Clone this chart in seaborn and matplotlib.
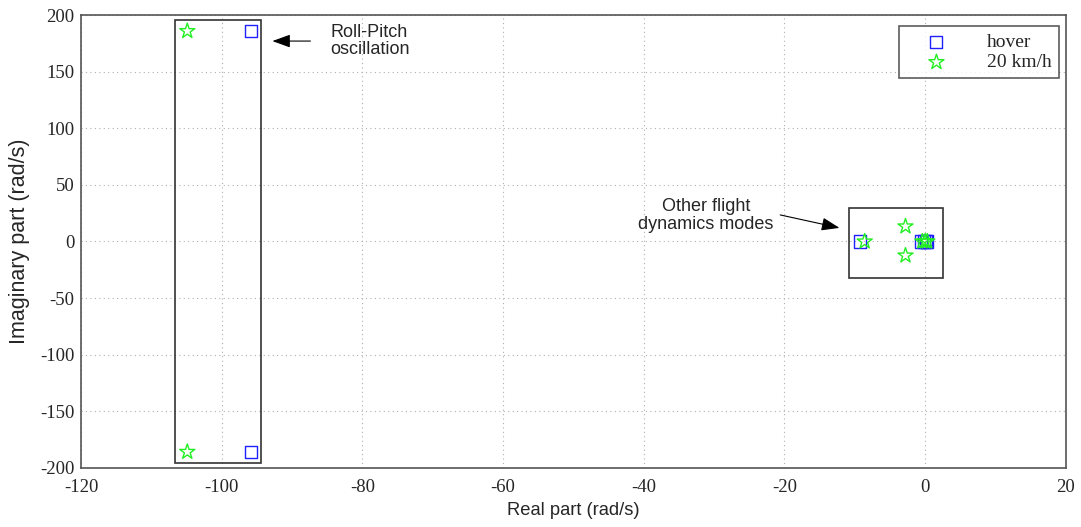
import numpy as np
import pandas as pd
import matplotlib
matplotlib.use("Agg")
import matplotlib.pyplot as plt
import seaborn as sns
from matplotlib.patches import Rectangle

# ============================================================
# DATEN: Eigenwerte (Realteil / Imaginärteil) aus dem Bild
# ============================================================
hover_re = [-95.8, -95.8, -9.3, -0.6, -0.2, 0.1, 0.3]
hover_im = [185.8, -185.8, 0.0, 0.0, 0.0, 0.0, 0.0]

fast_re = [-104.9, -104.9, -8.6, -2.8, -2.8, -0.4, 0.0, 0.3]
fast_im = [185.8, -185.8, 0.0, 13.3, -12.4, 0.0, 0.0, 0.0]

series_names = ["hover", "20 km/h"]
x_ticks = [-120, -100, -80, -60, -40, -20, 0, 20]
y_ticks = [-200, -150, -100, -50, 0, 50, 100, 150, 200]

df = pd.DataFrame({
    "re": hover_re + fast_re,
    "im": hover_im + fast_im,
    "mode": [series_names[0]] * len(hover_re) + [series_names[1]] * len(fast_re),
})

# ============================================================
# PLOT
# ============================================================
sns.set_style("white")
plt.rcParams['font.family'] = ['Liberation Sans', 'DejaVu Sans']
plt.rcParams['axes.unicode_minus'] = False

fig = plt.figure(figsize=(10.81, 5.27), dpi=100)
ax = fig.add_axes([0.075, 0.112, 0.911, 0.8595])

colors = {"hover": "#2020ff", "20 km/h": "#22ee22"}
markers = {"hover": "s", "20 km/h": "*"}
for name in series_names:
    sub = df[df["mode"] == name]
    sns.scatterplot(data=sub, x="re", y="im", ax=ax, marker=markers[name],
                    s=75 if name == "hover" else 130, facecolors="none",
                    edgecolor=colors[name], linewidth=1.0, label=name, zorder=3)

ax.set_xlim(-120, 20)
ax.set_ylim(-200, 200)
ax.set_xticks(x_ticks)
ax.set_yticks(y_ticks)
ax.grid(True, linestyle=(0, (1, 3)), color="#b0b0b0", linewidth=0.8)
for sp in ax.spines.values():
    sp.set_color("#555555")
    sp.set_linewidth(1.2)
ax.tick_params(direction="in", length=5, color="#555555", labelsize=13.5)
ax.tick_params(axis="x", pad=8)
ax.tick_params(axis="y", pad=5)
for lab in ax.get_xticklabels() + ax.get_yticklabels():
    lab.set_fontfamily("Liberation Serif")

ax.set_xlabel("Real part (rad/s)", fontsize=13.2, labelpad=4)
ax.set_ylabel("Imaginary part (rad/s)", fontsize=15.5, labelpad=7)

# Kästen um die Moden
ax.add_patch(Rectangle((-106.6, -195.6), 12.2, 391.2, fill=False,
                       edgecolor="#333333", linewidth=1.2, zorder=2))
ax.add_patch(Rectangle((-10.9, -31.9), 13.5, 61.1, fill=False,
                       edgecolor="#333333", linewidth=1.2, zorder=2))

# Beschriftungen mit Pfeilen
pfeil = dict(arrowstyle="-|>,head_length=1.1,head_width=0.4", color="black", lw=0.8)
ax.annotate("", xy=(-93.2, 177), xytext=(-87.0, 177), arrowprops=pfeil)
ax.text(-84.6, 177, "Roll-Pitch\noscillation", fontsize=13, ha="left", va="center",
        linespacing=1.05)
ax.annotate("", xy=(-11.8, 11.5), xytext=(-21.0, 24), arrowprops=pfeil)
ax.text(-31.2, 23, "Other flight\ndynamics modes", fontsize=13, ha="center", va="center",
        linespacing=1.05)

leg = ax.legend(loc="upper right", bbox_to_anchor=(0.9985, 0.988), frameon=True,
                fancybox=False, edgecolor="#333333", prop={"family": "Liberation Serif", "size": 14},
                handlelength=3.2, handletextpad=1.0, borderpad=0.35, labelspacing=0.15,
                borderaxespad=0.3)
leg.get_frame().set_linewidth(1.2)

fig.savefig("out.png", dpi=100)
